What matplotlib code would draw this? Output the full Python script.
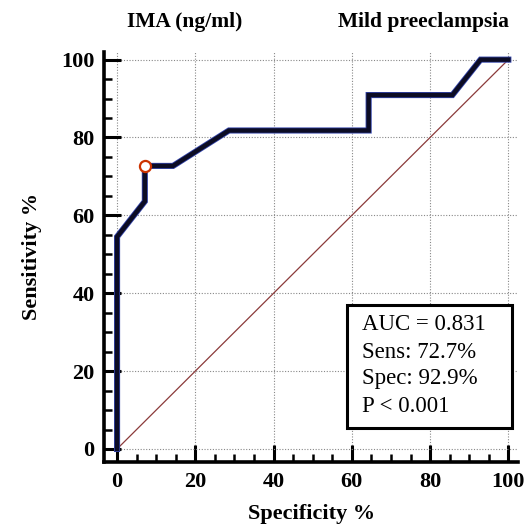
import matplotlib
matplotlib.use("Agg")
import matplotlib.pyplot as plt
from matplotlib.ticker import MultipleLocator
from matplotlib.patches import Rectangle

# Data
spec_100 = [0, 0, 7.1, 7.1, 14.3, 28.6, 64.3, 64.3, 85.7, 92.9, 100]
sens = [0, 54.5, 63.6, 72.7, 72.7, 81.8, 81.8, 90.9, 90.9, 100, 100]
cut_x = [7.1]
cut_y = [72.7]
ticks = [0, 20, 40, 60, 80, 100]
box_lines = ["AUC = 0.831", "Sens: 72.7%", "Spec: 92.9%", "P < 0.001"]

plt.rcParams['font.family'] = ['Liberation Serif', 'DejaVu Serif']

fig = plt.figure(figsize=(5.26, 5.29), dpi=100)
ax = fig.add_axes([0.198, 0.127, 0.787, 0.775])

ax.set_xlim(-3.3, 102.5)
ax.set_ylim(-3.3, 102)

ax.grid(True, which='major', linestyle=(0, (1, 1.5)), color='#888888', linewidth=0.8)
ax.set_axisbelow(True)

ax.plot([0, 100], [0, 100], color='#8b3a3a', linewidth=0.9, zorder=2)
ax.plot(spec_100, sens, color='#3344aa', linewidth=4.4, zorder=3, solid_joinstyle='miter')
ax.plot(spec_100, sens, color='#0c0c24', linewidth=3.2, zorder=4, solid_joinstyle='miter')
ax.plot(cut_x, cut_y, 'o', markersize=8, markerfacecolor='white',
        markeredgecolor='#cc3300', markeredgewidth=1.6, zorder=5)

for s in ['top', 'right']:
    ax.spines[s].set_visible(False)
for s in ['left', 'bottom']:
    ax.spines[s].set_linewidth(2.6)
    ax.spines[s].set_color('black')

ax.set_xticks(ticks)
ax.set_yticks(ticks)
ax.xaxis.set_minor_locator(MultipleLocator(5))
ax.yaxis.set_minor_locator(MultipleLocator(5))
ax.tick_params(which='major', direction='in', length=12, width=2.2, pad=7,
               labelsize=16)
ax.tick_params(which='minor', direction='in', length=6, width=1.8)
for lab in ax.get_xticklabels() + ax.get_yticklabels():
    lab.set_fontweight('bold')

ax.set_xlabel('Specificity %', fontsize=16, fontweight='bold', labelpad=9)
ax.set_ylabel('Sensitivity %', fontsize=16, fontweight='bold', labelpad=14)

fig.text(185 / 526, 1 - 22 / 529, 'IMA (ng/ml)', fontsize=15.5, fontweight='bold',
         ha='center', va='center')
fig.text(424 / 526, 1 - 22 / 529, 'Mild preeclampsia', fontsize=15.5, fontweight='bold',
         ha='center', va='center')

ax.add_patch(Rectangle((58.8, 5.4), 42.2, 31.6, facecolor='white', edgecolor='black',
                       linewidth=2.2, zorder=6, clip_on=False))
line_y = [31.9, 24.9, 18.1, 11.0]
for txt, yy in zip(box_lines, line_y):
    ax.text(62.7, yy, txt, fontsize=16.5, ha='left', va='center', zorder=7)

fig.savefig('out.png', dpi=100)
